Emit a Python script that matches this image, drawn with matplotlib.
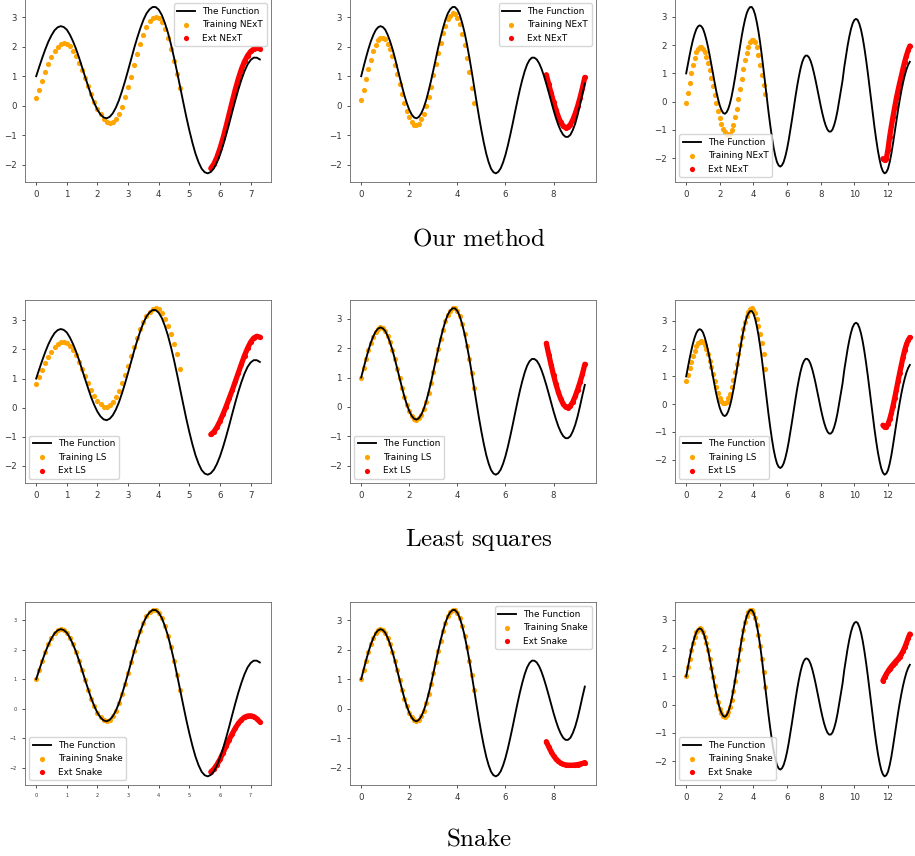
import numpy as np
import matplotlib.pyplot as plt

plt.rcParams['mathtext.fontset'] = 'cm'

# the true function, sampled every 0.1 from 0 to 13.3
func_x = np.round(np.arange(0, 13.31, 0.1), 1)
func_y = [1.00, 1.32, 1.63, 1.92, 2.18, 2.39, 2.56, 2.66, 2.70, 2.67,
          2.58, 2.41, 2.19, 1.93, 1.63, 1.30, 0.97, 0.65, 0.34, 0.08,
          -0.14, -0.30, -0.40, -0.43, -0.38, -0.26, -0.07, 0.18, 0.49, 0.83,
          1.20, 1.58, 1.96, 2.31, 2.63, 2.91, 3.13, 3.27, 3.35, 3.35,
          3.26, 3.08, 2.81, 2.48, 2.08, 1.63, 1.14, 0.63, 0.12, -0.38,
          -0.84, -1.26, -1.63, -1.92, -2.14, -2.26, -2.30, -2.25, -2.13, -1.93,
          -1.67, -1.35, -0.99, -0.61, -0.21, 0.18, 0.55, 0.88, 1.17, 1.40,
          1.55, 1.63, 1.63, 1.57, 1.44, 1.25, 1.01, 0.74, 0.45, 0.15,
          -0.15, -0.42, -0.66, -0.85, -0.99, -1.06, -1.06, -0.99, -0.83, -0.61,
          -0.32, 0.03, 0.40, 0.75, 1.22, 1.61, 1.98, 2.30, 2.57, 2.77,
          2.89, 2.93, 2.89, 2.75, 2.54, 2.25, 1.89, 1.48, 1.03, 0.54,
          0.05, -0.44, -0.91, -1.34, -1.73, -2.05, -2.31, -2.47, -2.54, -2.50,
          -2.38, -2.15, -1.85, -1.48, -1.08, -0.68, -0.30, 0.06, 0.39, 0.68,
          0.93, 1.14, 1.30, 1.41]

# end of the plotted range in each column
x_end = [7.3, 9.3, 13.3]
ext_start = [5.7, 7.7, 11.7]

# training predictions on x = 0 .. 4.7
next_train = [
    [0.25, 0.54, 0.84, 1.13, 1.41, 1.65, 1.85, 2.00, 2.09, 2.12,
     2.09, 2.01, 1.87, 1.68, 1.46, 1.21, 0.94, 0.66, 0.38, 0.13,
     -0.10, -0.30, -0.44, -0.54, -0.58, -0.55, -0.45, -0.27, -0.03, 0.28,
     0.62, 0.99, 1.37, 1.75, 2.10, 2.41, 2.67, 2.86, 2.98, 3.02,
     2.97, 2.83, 2.60, 2.30, 1.93, 1.52, 1.07, 0.60],
    [0.19, 0.54, 0.90, 1.25, 1.56, 1.84, 2.07, 2.22, 2.31, 2.31,
     2.25, 2.11, 1.92, 1.67, 1.38, 1.06, 0.73, 0.41, 0.10, -0.17,
     -0.38, -0.54, -0.64, -0.66, -0.61, -0.47, -0.28, -0.01, 0.30, 0.65,
     1.03, 1.41, 1.79, 2.14, 2.46, 2.72, 2.93, 3.06, 3.13, 3.11,
     2.98, 2.76, 2.45, 2.07, 1.62, 1.13, 0.61, 0.08],
    [-0.06, 0.31, 0.67, 1.01, 1.31, 1.56, 1.75, 1.88, 1.94, 1.93,
     1.86, 1.74, 1.57, 1.36, 1.11, 0.83, 0.54, 0.25, -0.05, -0.32,
     -0.57, -0.79, -0.96, -1.09, -1.16, -1.18, -1.13, -1.00, -0.81, -0.55,
     -0.25, 0.08, 0.44, 0.80, 1.14, 1.46, 1.73, 1.95, 2.10, 2.19,
     2.20, 2.10, 1.92, 1.65, 1.30, 0.95, 0.60, 0.26],
]
ls_train = [
    [0.80, 1.04, 1.28, 1.52, 1.73, 1.92, 2.08, 2.19, 2.25, 2.27,
     2.23, 2.13, 1.99, 1.80, 1.58, 1.34, 1.09, 0.84, 0.61, 0.40,
     0.23, 0.11, 0.04, 0.03, 0.08, 0.19, 0.36, 0.58, 0.84, 1.13,
     1.44, 1.77, 2.09, 2.40, 2.69, 2.93, 3.13, 3.29, 3.38, 3.41,
     3.37, 3.25, 3.06, 2.82, 2.53, 2.20, 1.84, 1.33],
    func_y[:48],
    [0.82, 1.06, 1.30, 1.53, 1.74, 1.93, 2.08, 2.19, 2.25, 2.26,
     2.22, 2.12, 1.98, 1.79, 1.57, 1.33, 1.08, 0.83, 0.60, 0.39,
     0.22, 0.10, 0.04, 0.04, 0.09, 0.21, 0.38, 0.60, 0.86, 1.15,
     1.46, 1.79, 2.12, 2.43, 2.72, 2.97, 3.17, 3.33, 3.42, 3.45,
     3.40, 3.27, 3.08, 2.83, 2.53, 2.20, 1.82, 1.28],
]
snake_train = [func_y[:48], func_y[:48], func_y[:48]]

# extrapolation predictions, 17 points from ext_start
next_ext = [
    [-2.13, -1.98, -1.75, -1.45, -1.10, -0.70, -0.28, 0.14, 0.55, 0.92,
     1.24, 1.50, 1.70, 1.84, 1.92, 1.95, 1.94],
    [1.05, 0.72, 0.42, 0.13, -0.14, -0.38, -0.57, -0.69, -0.75, -0.73,
     -0.64, -0.48, -0.27, -0.02, 0.27, 0.60, 0.96],
    [-2.02, -2.07, -2.02, -1.70, -1.25, -0.88, -0.53, -0.20, 0.12, 0.40,
     0.67, 0.92, 1.18, 1.42, 1.63, 1.82, 1.97],
]
ls_ext = [
    [-0.92, -0.83, -0.67, -0.46, -0.22, 0.04, 0.32, 0.60, 0.90, 1.20,
     1.50, 1.79, 2.04, 2.25, 2.39, 2.45, 2.42],
    [2.16, 1.78, 1.42, 1.08, 0.77, 0.50, 0.27, 0.10, 0.00, -0.02,
     0.04, 0.17, 0.36, 0.59, 0.84, 1.12, 1.45],
    [-0.76, -0.83, -0.82, -0.72, -0.55, -0.33, -0.07, 0.22, 0.52, 0.83,
     1.13, 1.42, 1.70, 1.95, 2.15, 2.30, 2.40],
]
snake_ext = [
    [-2.15, -2.05, -1.90, -1.72, -1.50, -1.27, -1.05, -0.85, -0.66, -0.50,
     -0.38, -0.29, -0.25, -0.24, -0.27, -0.34, -0.45],
    [-1.12, -1.30, -1.46, -1.60, -1.71, -1.79, -1.85, -1.89, -1.91, -1.92,
     -1.92, -1.92, -1.91, -1.90, -1.88, -1.86, -1.83],
    [0.85, 0.97, 1.08, 1.18, 1.27, 1.35, 1.42, 1.49, 1.56, 1.62,
     1.70, 1.79, 1.90, 2.03, 2.18, 2.35, 2.50],
]

rows = [
    ('NExT', next_train, next_ext, r'$\mathrm{Our\ method}$', 245),
    ('LS', ls_train, ls_ext, r'$\mathrm{Least\ squares}$', 546),
    ('Snake', snake_train, snake_ext, r'$\mathrm{Snake}$', 846),
]
legend_locs = [['upper right', 'upper right', 'lower left'],
               ['lower left', 'lower left', 'lower left'],
               ['lower left', 'upper right', 'lower left']]

W, H = 915, 856
fig = plt.figure(figsize=(W / 100, H / 100), dpi=100)

col_left = [25, 350, 675]
row_top = [-1.3, 300, 601.7]
ax_w, ax_h = 246, 183

train_x = func_x[:48]

for r, (name, train, ext, title, baseline) in enumerate(rows):
    for c in range(3):
        ax = fig.add_axes([col_left[c] / W, 1 - (row_top[r] + ax_h) / H,
                           ax_w / W, ax_h / H])
        n = int(round(x_end[c] * 10)) + 1
        ex = np.round(ext_start[c] + 0.1 * np.arange(17), 1)

        ax.plot(func_x[:n], func_y[:n], color='k', lw=1.35, label='The Function')
        ax.scatter(train_x, train[c], s=14, color='orange', lw=0,
                   label='Training ' + name)
        ax.scatter(ex, ext[c], s=14, color='red', lw=0, label='Ext ' + name)
        # dense extrapolation points read as a solid band
        ax.plot(ex, ext[c], color='red', lw=3.8, solid_capstyle='round',
                zorder=1)

        size = 3.5 if (r == 2 and c == 0) else 6.2
        ax.tick_params(labelsize=size, length=2.5, width=0.6,
                       colors='#333333')
        for sp in ax.spines.values():
            sp.set_linewidth(0.6)
            sp.set_color('#666666')
        ax.legend(loc=legend_locs[r][c], fontsize=6.4)

    fig.text(479 / W, 1 - baseline / H, title, fontsize=18,
             ha='center', va='baseline')

fig.savefig('out.png', dpi=100)
